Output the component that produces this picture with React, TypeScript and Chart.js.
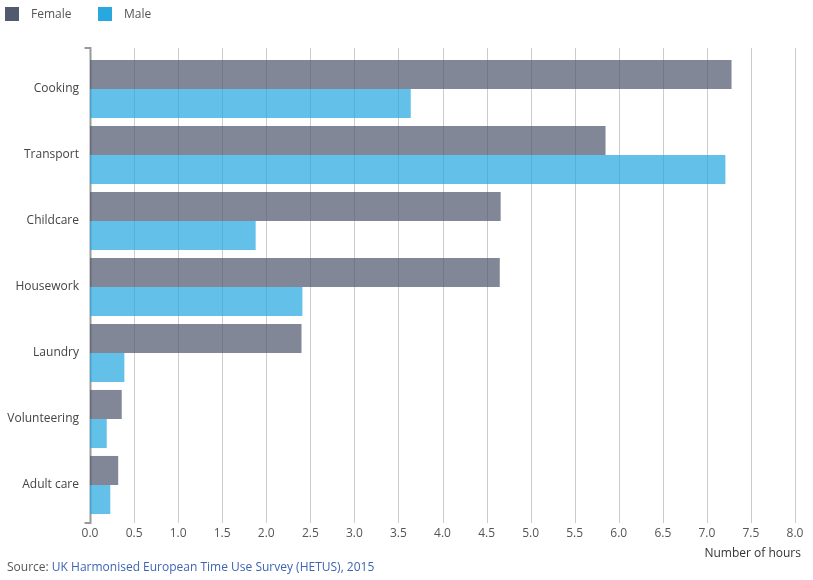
import { useEffect, useRef } from 'react';
import { Chart, registerables } from 'chart.js';

Chart.register(...registerables);

const categories = ['Cooking', 'Transport', 'Childcare', 'Housework', 'Laundry', 'Volunteering', 'Adult care'];
const femaleHours = [7.28, 5.85, 4.66, 4.65, 2.4, 0.36, 0.32];
const maleHours = [3.64, 7.21, 1.88, 2.41, 0.39, 0.19, 0.23];

const FONT = '"Open Sans", "DejaVu Sans", sans-serif';
const FEMALE = '#525a70';
const MALE = '#29a8e0';
const BAR_FEMALE = 'rgba(82, 90, 112, 0.73)';
const BAR_MALE = 'rgba(41, 168, 224, 0.73)';

// grid lines and the bracket-shaped y axis reach a little beyond the bars
const gridPlugin = {
  id: 'gridBracket',
  beforeDatasetsDraw(chart: Chart) {
    const { ctx, chartArea } = chart;
    const x = chart.scales.x;
    const top = chartArea.top - 8;
    const bottom = chartArea.bottom + 5;
    ctx.save();
    ctx.strokeStyle = '#cccccc';
    ctx.lineWidth = 1;
    x.ticks.forEach((t) => {
      if (t.value === 0) return;
      const px = Math.round(x.getPixelForValue(t.value)) + 0.5;
      ctx.beginPath();
      ctx.moveTo(px, top);
      ctx.lineTo(px, bottom);
      ctx.stroke();
    });
    const ax = Math.round(x.getPixelForValue(0)) + 0.5;
    ctx.strokeStyle = '#9a9a9a';
    ctx.lineWidth = 2;
    ctx.beginPath();
    ctx.moveTo(ax - 6, top);
    ctx.lineTo(ax, top);
    ctx.lineTo(ax, bottom);
    ctx.lineTo(ax - 6, bottom);
    ctx.stroke();
    ctx.restore();
  },
};

const App = () => {
  const canvasRef = useRef<HTMLCanvasElement>(null);

  useEffect(() => {
    document.body.style.margin = '0';
    if (!canvasRef.current) return;
    const chart = new Chart(canvasRef.current, {
      type: 'bar',
      data: {
        labels: categories,
        datasets: [
          {
            label: 'Female',
            data: femaleHours,
            backgroundColor: BAR_FEMALE,
            borderWidth: 0,
            barPercentage: 1,
            categoryPercentage: 0.88,
          },
          {
            label: 'Male',
            data: maleHours,
            backgroundColor: BAR_MALE,
            borderWidth: 0,
            barPercentage: 1,
            categoryPercentage: 0.88,
          },
        ],
      },
      options: {
        indexAxis: 'y',
        responsive: false,
        animation: false,
        layout: { padding: { top: 56, right: 18, left: 0, bottom: 0 } },
        plugins: {
          legend: { display: false },
          tooltip: { enabled: false },
        },
        scales: {
          x: {
            min: 0,
            max: 8,
            border: { display: false },
            grid: { display: false, drawTicks: false },
            ticks: {
              stepSize: 0.5,
              padding: 8,
              color: '#555',
              font: { family: FONT, size: 12 },
              callback: (v) => Number(v).toFixed(1),
            },
            afterFit: (s) => {
              s.height = 62;
            },
          },
          y: {
            border: { display: false },
            grid: { display: false, drawTicks: false },
            ticks: {
              padding: 11,
              color: '#444',
              font: { family: FONT, size: 12 },
            },
            afterFit: (s) => {
              s.width = 90;
            },
          },
        },
      },
      plugins: [gridPlugin],
    });
    return () => chart.destroy();
  }, []);

  const legendItem = (color: string, text: string, left: number) => (
    <div style={{ position: 'absolute', left, top: 5, display: 'flex', alignItems: 'center' }}>
      <span style={{ display: 'inline-block', width: 14, height: 14, background: color }} />
      <span style={{ marginLeft: 12, fontSize: 12, color: '#555', fontFamily: FONT }}>{text}</span>
    </div>
  );

  return (
    <div style={{ position: 'relative', width: 813, height: 580, background: '#fff', fontFamily: FONT }}>
      <canvas ref={canvasRef} width={813} height={580} style={{ position: 'absolute', left: 0, top: 0 }} />
      {legendItem(FEMALE, 'Female', 5)}
      {legendItem(MALE, 'Male', 98)}
      <div style={{ position: 'absolute', right: 12, top: 544, fontSize: 12, color: '#333', whiteSpace: 'nowrap' }}>
        Number of hours
      </div>
      <div style={{ position: 'absolute', left: 7, top: 558, fontSize: 12, color: '#555', whiteSpace: 'nowrap' }}>
        Source: <span style={{ color: '#3e64b4' }}>UK Harmonised European Time Use Survey (HETUS), 2015</span>
      </div>
    </div>
  );
};

export default App;
